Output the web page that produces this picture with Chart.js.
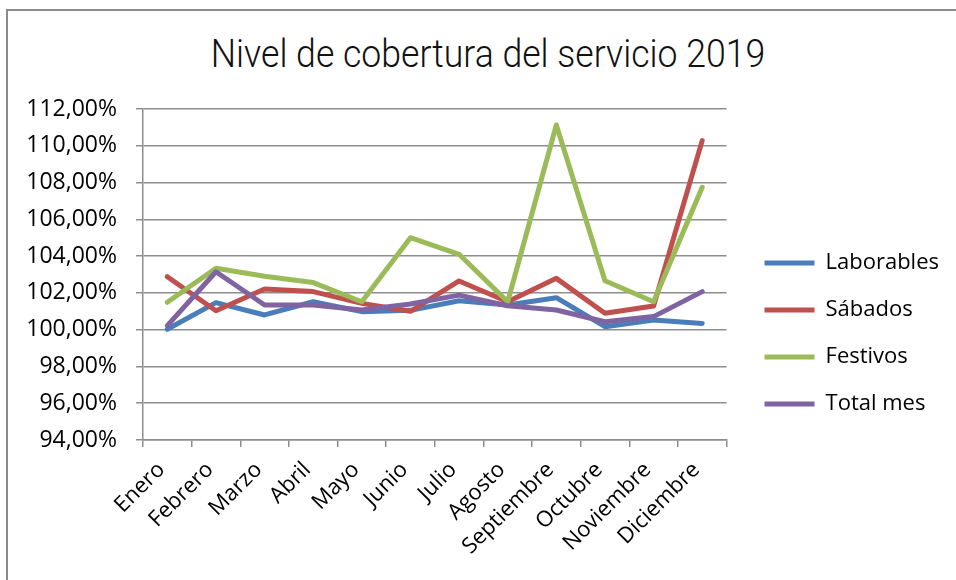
<!DOCTYPE html>
<html lang="es">
<head>
<meta charset="utf-8">
<title>Nivel de cobertura del servicio 2019</title>
<script src="https://cdn.jsdelivr.net/npm/chart.js@4.4.1/dist/chart.umd.min.js"></script>
<style>
    html, body { margin: 0; padding: 0; background: #fff; overflow: hidden; }
    .frame {
        position: absolute; left: 6px; top: 9px; width: 1000px; height: 620px;
        border: 2px solid #8a8a8a; box-sizing: border-box;
    }
    .chart-title {
        position: absolute; left: 0; top: 35px; width: 976px; text-align: center;
        font-family: Roboto, "Liberation Sans", sans-serif; font-weight: 300;
        font-size: 39px; line-height: 39px; color: #111;
        transform: scaleX(0.913); transform-origin: 488px 0;
        white-space: nowrap;
    }
    .chart-wrap { position: absolute; left: 0; top: 0; width: 956px; height: 580px; }
</style>
</head>
<body>
<div class="frame"></div>
<div class="chart-title">Nivel de cobertura del servicio 2019</div>
<div class="chart-wrap"><canvas id="coverageChart"></canvas></div>
<script>
// Datos
const months = ['Enero', 'Febrero', 'Marzo', 'Abril', 'Mayo', 'Junio', 'Julio',
    'Agosto', 'Septiembre', 'Octubre', 'Noviembre', 'Diciembre'];
const laborables = [100.02, 101.47, 100.80, 101.52, 100.98, 101.05, 101.57, 101.34, 101.74, 100.16, 100.53, 100.34];
const sabados = [102.88, 101.03, 102.21, 102.07, 101.43, 101.00, 102.65, 101.52, 102.79, 100.89, 101.29, 110.28];
const festivos = [101.49, 103.34, 102.90, 102.56, 101.52, 105.00, 104.10, 101.52, 111.13, 102.66, 101.52, 107.74];
const totalMes = [100.22, 103.15, 101.34, 101.34, 101.07, 101.40, 101.88, 101.30, 101.07, 100.43, 100.71, 102.07];
const yTicks = [94, 96, 98, 100, 102, 104, 106, 108, 110, 112];

const gridColor = '#8e8e8e';
const fontFamily = '"Open Sans", "Liberation Sans", sans-serif';

function makeSeries(label, data, color, order) {
    return {
        label: label,
        data: data,
        borderColor: color,
        backgroundColor: color,
        borderWidth: 5,
        borderCapStyle: 'round',
        borderJoinStyle: 'round',
        pointRadius: 0,
        pointHoverRadius: 0,
        tension: 0,
        order: order
    };
}

// nudge the legend so it sits where Excel puts it
const legendShift = {
    id: 'legendShift',
    afterUpdate(chart) {
        const lg = chart.legend;
        if (!lg) return;
        lg.left += 13;
        lg.right += 13;
        lg.top -= 11;
        lg.bottom -= 11;
    }
};

const ctx = document.getElementById('coverageChart');
new Chart(ctx, {
    type: 'line',
    data: {
        labels: months,
        datasets: [
            makeSeries('Laborables', laborables, '#4a7ebb', 4),
            makeSeries('Sábados', sabados, '#c0504d', 3),
            makeSeries('Festivos', festivos, '#9bbb59', 2),
            makeSeries('Total mes', totalMes, '#8064a2', 1)
        ]
    },
    options: {
        responsive: true,
        maintainAspectRatio: false,
        animation: false,
        layout: { padding: { top: 109, right: 20, bottom: 0, left: 0 } },
        plugins: {
            title: { display: false },
            tooltip: { enabled: false },
            legend: {
                position: 'right',
                align: 'center',
                labels: {
                    font: { family: fontFamily, size: 22 },
                    color: '#000',
                    usePointStyle: true,
                    pointStyle: 'line',
                    pointStyleWidth: 50,
                    padding: 25,
                    sort: (a, b) => a.datasetIndex - b.datasetIndex
                }
            }
        },
        scales: {
            x: {
                offset: true,
                grid: {
                    offset: true,
                    drawOnChartArea: false,
                    drawTicks: true,
                    tickLength: 7,
                    color: gridColor,
                    lineWidth: 1.5
                },
                border: { color: gridColor, width: 1.5 },
                ticks: {
                    font: { family: fontFamily, size: 22 },
                    color: '#000',
                    minRotation: 45,
                    maxRotation: 45,
                    autoSkip: false,
                    padding: 10,
                    labelOffset: -6
                },
                afterFit: (s) => { s.height = 140; }
            },
            y: {
                min: 94,
                max: 112,
                afterBuildTicks: (s) => { s.ticks = yTicks.map(v => ({ value: v })); },
                grid: {
                    color: gridColor,
                    lineWidth: 1.5,
                    tickLength: 7
                },
                border: { color: gridColor, width: 1.5 },
                ticks: {
                    font: { family: fontFamily, size: 23 },
                    color: '#000',
                    padding: 19,
                    callback: (v) => v.toFixed(2).replace('.', ',') + '%'
                },
                afterFit: (s) => { s.width = 143; }
            }
        }
    },
    plugins: [legendShift]
});
</script>
</body>
</html>
